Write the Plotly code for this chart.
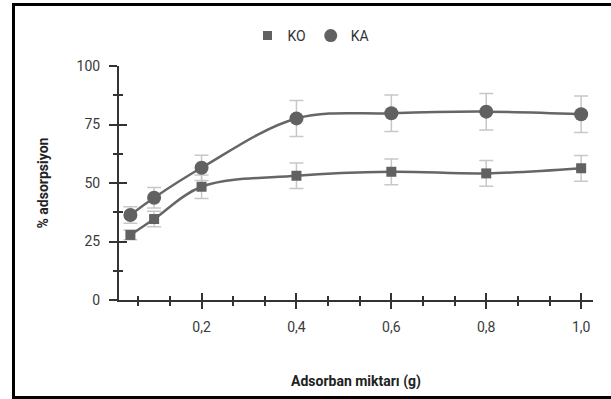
import plotly.graph_objects as go

# ---- data ----
adsorbent_g = [0.05, 0.1, 0.2, 0.4, 0.6, 0.8, 1.0]
ko_values = [27.8, 34.6, 48.4, 53.1, 54.8, 54.1, 56.3]
ko_errors = [2.1, 3.3, 5.0, 5.5, 5.5, 5.5, 5.5]
ka_values = [36.3, 43.7, 56.5, 77.6, 79.8, 80.5, 79.4]
ka_errors = [3.5, 4.4, 5.4, 7.7, 7.8, 7.8, 7.8]
x_ticks = [0.2, 0.4, 0.6, 0.8, 1.0]
y_ticks = [0, 25, 50, 75, 100]

W, H = 611, 399
# plot area in screen pixels: x 119..593, y 66..300
L, T = 119, 66
R = W - 593
B = H - 300
pw, ph = W - L - R, H - T - B

MARK = "#616161"
LINE = "#666666"
ERR = "#c8c8c8"
AX = "#333333"
FONT = "Roboto"

fig = go.Figure()

def series(name, y, err, symbol, size):
    fig.add_trace(go.Scatter(
        x=adsorbent_g, y=y, mode="lines+markers", name=name, showlegend=False,
        line=dict(color=LINE, width=2.5, shape="spline", smoothing=1),
        marker=dict(symbol=symbol, size=size, color=MARK),
        error_y=dict(type="data", array=err, visible=True, color=ERR, thickness=1.5, width=7),
    ))

series("KO", ko_values, ko_errors, "square", 10)
series("KA", ka_values, ka_errors, "circle", 14)

# legend-only entries (marker only)
fig.add_trace(go.Scatter(x=[None], y=[None], mode="markers", name="KO",
                         marker=dict(symbol="square", size=9, color=MARK)))
fig.add_trace(go.Scatter(x=[None], y=[None], mode="markers", name="KA",
                         marker=dict(symbol="circle", size=13, color=MARK)))
# dummy trace for the overlay axes (inside ticks)
fig.add_trace(go.Scatter(x=[None], y=[None], xaxis="x2", yaxis="y2", showlegend=False,
                         mode="markers", hoverinfo="skip"))

xr = [0.026, 1.025]
yr = [0, 100]
tickfont = dict(family=FONT, size=14, color="#3a3a3a")

common_x = dict(range=xr, tickvals=x_ticks, tickformat=".1f", showgrid=False, zeroline=False)
common_y = dict(range=yr, tickvals=y_ticks, showgrid=False, zeroline=False)

fig.update_layout(
    width=W, height=H,
    margin=dict(l=L, r=R, t=T, b=B, autoexpand=False),
    paper_bgcolor="white", plot_bgcolor="white",
    separators=",.",
    font=dict(family=FONT, size=14, color="#333333"),
    xaxis=dict(**common_x, showline=True, linecolor=AX, linewidth=2,
               ticks="outside", ticklen=7, tickwidth=1.5, tickcolor=AX,
               minor=dict(dtick=0.2 / 3, tick0=0, ticks="outside", ticklen=4, tickwidth=1.5, tickcolor=AX),
               tickfont=tickfont, ticklabelstandoff=6,
               title=dict(text="Adsorban miktarı (g)", font=dict(family=FONT, size=14, weight="bold", color="#222222"),
                          standoff=42)),
    yaxis=dict(**common_y, showline=True, linecolor=AX, linewidth=2,
               ticks="outside", ticklen=8, tickwidth=1.5, tickcolor=AX,
               minor=dict(dtick=12.5, tick0=0, ticks="outside", ticklen=4, tickwidth=1.5, tickcolor=AX),
               tickfont=tickfont, ticklabelstandoff=6,
               title=dict(text="% adsorpsiyon", font=dict(family=FONT, size=14, weight="bold", color="#222222"),
                          standoff=25)),
    xaxis2=dict(**common_x, overlaying="x", anchor="y", side="bottom", showline=False,
                showticklabels=False, ticks="inside", ticklen=7, tickwidth=1.5, tickcolor=AX,
                minor=dict(dtick=0.2 / 3, tick0=0, ticks="inside", ticklen=4, tickwidth=1.5, tickcolor=AX)),
    yaxis2=dict(**common_y, overlaying="y", anchor="x", side="left", showline=False,
                showticklabels=False, ticks="inside", ticklen=8, tickwidth=1.5, tickcolor=AX,
                minor=dict(dtick=12.5, tick0=0, ticks="inside", ticklen=4, tickwidth=1.5, tickcolor=AX)),
    legend=dict(orientation="h", x=(311 - L) / pw, xanchor="center", y=1 + (T - 36) / ph, yanchor="middle",
                font=dict(family=FONT, size=14, color="#333333"), bgcolor="rgba(0,0,0,0)"),
    showlegend=True,
)

# outer frame (left, top, bottom edges visible), screen px -> paper coords
def sx(px):
    return (px - L) / pw

def sy(py):
    return (H - B - py) / ph

frame = dict(type="line", xref="paper", yref="paper", line=dict(color="black", width=3), layer="above")
fig.add_shape(**frame, x0=sx(12), x1=sx(640), y0=sy(4.5), y1=sy(4.5))
fig.add_shape(**frame, x0=sx(13.5), x1=sx(13.5), y0=sy(3), y1=sy(399))
fig.add_shape(**frame, x0=sx(12), x1=sx(640), y0=sy(397.5), y1=sy(397.5))

fig.write_html("out.html", config={"displayModeBar": False},
               post_script="document.body.style.margin='0';document.body.style.overflow='hidden';")
